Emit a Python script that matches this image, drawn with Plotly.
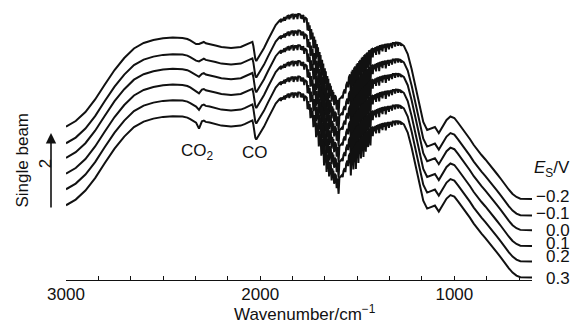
import plotly.graph_objects as go

# ---------------- data ----------------
potentials = ["\u22120.2", "\u22120.1", "0.0", "0.1", "0.2", "0.3"]   # E_S / V
# vertical stacking offsets of each spectrum (single-beam units, arrow = 2)
offsets = [0.0, -0.415, -0.78, -1.175, -1.565, -1.965]
# extra CO2 dip depth at 2315 cm-1 for each potential
co2_wn = 2315
co2_extra = [0.0, -0.02, -0.04, -0.06, -0.08, -0.15]

# reference spectrum (top trace, E_S = -0.2 V): (wavenumber / cm-1, single beam)
spectrum = [
    (3000, 3.833), (2950, 3.975), (2900, 4.200), (2850, 4.513), (2800, 4.888),
    (2750, 5.250), (2700, 5.550), (2650, 5.788), (2600, 5.925), (2550, 6.000),
    (2500, 6.043), (2450, 6.060), (2400, 6.050), (2375, 6.025), (2360, 5.988),
    (2350, 5.958), (2340, 5.925), (2330, 5.900), (2315, 5.900), (2300, 5.933),
    (2290, 5.950), (2280, 5.918), (2260, 5.900), (2230, 5.863), (2200, 5.825),
    (2150, 5.800), (2100, 5.825), (2080, 5.863), (2060, 5.913), (2050, 5.938),
    (2040, 5.955), (2035, 5.850), (2030, 5.675), (2025, 5.525), (2020, 5.475),
    (2010, 5.550), (2000, 5.650), (1980, 5.800), (1960, 6.000), (1940, 6.200),
    (1920, 6.375),
    # water-vapour region
    (1900, 6.488), (1897, 6.500), (1893, 6.440), (1889, 6.530), (1884.5, 6.473),
    (1880, 6.563), (1876, 6.570), (1872, 6.478), (1868, 6.585), (1864, 6.518),
    (1860, 6.600), (1854, 6.610), (1850, 6.515), (1846, 6.620), (1843, 6.550),
    (1840, 6.630), (1832, 6.638), (1828, 6.518), (1824, 6.645), (1820, 6.650),
    (1816, 6.575), (1812, 6.650), (1808, 6.525), (1804, 6.650), (1800, 6.650),
    (1794, 6.640), (1790, 6.534), (1786, 6.628), (1783, 6.523), (1780, 6.618),
    (1777, 6.604), (1773, 6.435), (1769, 6.568), (1760, 6.525), (1756, 6.238),
    (1752, 6.440), (1748.5, 6.225), (1745, 6.365), (1741, 6.008), (1737, 6.275),
    (1733.5, 6.021), (1730, 6.188), (1726, 5.788), (1722, 6.088), (1719, 5.804),
    (1716, 6.008), (1712, 5.533), (1708, 5.898), (1705, 5.576), (1702, 5.815),
    (1698, 5.303), (1694, 5.698), (1691.5, 5.345), (1689, 5.623), (1685, 5.073),
    (1681, 5.503), (1678, 5.108), (1675, 5.413), (1671, 4.828), (1667, 5.293),
    (1664.5, 4.905), (1662, 5.218), (1658, 4.669), (1654, 5.100), (1651.5, 4.750),
    (1649, 5.030), (1645, 4.553), (1641, 4.915), (1638.5, 4.604), (1636, 4.853),
    (1632, 4.455), (1628, 4.758), (1625.5, 4.518), (1623, 4.698), (1619, 4.370),
    (1615, 4.619), (1610, 4.575), (1606, 4.260), (1602, 4.505), (1596, 4.120),
    (1592, 4.523), (1585, 4.553), (1580, 4.575), (1579, 4.588), (1575, 4.538),
    (1571, 4.688), (1565, 4.763), (1561, 4.663), (1557, 4.868), (1551, 4.953),
    (1547, 4.813), (1543, 5.070), (1537, 5.138), (1533, 4.580), (1529, 5.209),
    (1526.5, 4.880), (1524, 5.253), (1520, 4.728), (1516, 5.313), (1513.5, 5.013),
    (1511, 5.344), (1507, 4.739), (1503, 5.394), (1500.5, 5.060), (1498, 5.425),
    (1494, 4.890), (1490, 5.475), (1487.5, 5.175), (1485, 5.506), (1481, 5.006),
    (1477, 5.553), (1474.5, 5.251), (1472, 5.580), (1468, 5.040), (1464, 5.623),
    (1462, 5.353), (1460, 5.643), (1456, 5.170), (1452, 5.675), (1450, 5.439),
    (1448, 5.693), (1444, 5.288), (1440, 5.725), (1436, 5.738), (1432, 5.330),
    (1428, 5.763), (1424, 5.775), (1420, 5.563), (1416, 5.798), (1411.5, 5.683),
    (1407, 5.820), (1403, 5.630), (1399, 5.840), (1395, 5.723), (1391, 5.855),
    (1387, 5.638), (1383, 5.870), (1378.5, 5.751), (1374, 5.883), (1370, 5.713),
    (1366, 5.893), (1361.5, 5.798), (1357, 5.903), (1353, 5.705), (1349, 5.908),
    (1345, 5.811), (1341, 5.915), (1337, 5.766), (1333, 5.918), (1329, 5.845),
    (1325, 5.923), (1321, 5.800), (1317, 5.928), (1309, 5.930), (1305, 5.833),
    (1301, 5.935), (1293, 5.933), (1289, 5.855), (1285, 5.928), (1278, 5.918),
    (1274, 5.855), (1270, 5.890), (1260, 5.855),
    # low-wavenumber region
    (1240, 5.650), (1220, 5.275), (1200, 4.850), (1180, 4.425), (1160, 3.950),
    (1140, 3.750), (1120, 3.788), (1100, 3.825), (1080, 3.675), (1060, 3.825),
    (1040, 4.000), (1020, 4.088), (1000, 4.050), (980, 3.925), (960, 3.800),
    (940, 3.663), (920, 3.525), (900, 3.375), (880, 3.243), (860, 3.125),
    (840, 3.013), (820, 2.900), (800, 2.775), (780, 2.650), (760, 2.525),
    (740, 2.388), (720, 2.263), (700, 2.150), (680, 2.075), (660, 2.033),
    (640, 2.025), (600, 2.025),
]

x_tick_labels = ["3000", "2000", "1000"]

# ---------------- figure ----------------
wn = [p[0] for p in spectrum]
ref = [p[1] for p in spectrum]

FONT = "Liberation Sans, Arial, Helvetica, sans-serif"
INK = "#111111"

fig = go.Figure()
for i, pot in enumerate(potentials):
    y = [r + offsets[i] + (co2_extra[i] if w == co2_wn else 0.0) for w, r in zip(wn, ref)]
    fig.add_trace(go.Scatter(x=wn, y=y, mode="lines", name=pot,
                             line=dict(color=INK, width=2.0),
                             showlegend=False, hoverinfo="skip"))

W, H = 573, 327
ML, MR, MT, MB = 66, 41, 0, 47
PW, PH = W - ML - MR, H - MT - MB


def px(xp):
    return (xp - ML) / PW


def py(yp):
    return (H - MB - yp) / PH


tickvals = [3000 - k * 1000 / 6 for k in range(15)]
ticktext = []
for t in tickvals:
    lab = ""
    for s in x_tick_labels:
        if abs(float(s) - t) < 1:
            lab = s
    ticktext.append(lab)


def note(xp, yp, text, xanchor="center", angle=0):
    return dict(x=px(xp), y=py(yp), xref="paper", yref="paper", text=text,
                showarrow=False, xanchor=xanchor, yanchor="middle", textangle=angle,
                font=dict(size=17, color=INK, family=FONT))


annotations = []
label_y = [196, 213, 230, 243, 256, 278]
for lab, yy in zip(potentials, label_y):
    annotations.append(note(572, yy, lab, xanchor="right"))
annotations.append(note(572, 168.5, "<i>E</i><sub>S</sub>/V", xanchor="right"))
annotations.append(note(197, 152, "CO<sub>2</sub>"))
annotations.append(note(255, 152, "CO"))
annotations.append(note(21.5, 160, "Single beam", angle=-90))
annotations.append(note(45.8, 163.5, "2", angle=-90))
annotations.append(dict(x=px(51), y=py(133), xref="paper", yref="paper",
                        text="", showarrow=True, ax=0, ay=76,
                        arrowhead=2, arrowsize=1.3, arrowwidth=1.6,
                        arrowcolor=INK, standoff=0, startstandoff=0))
annotations.append(note(305, 313, "Wavenumber/cm<sup>\u22121</sup>"))

fig.update_layout(
    width=W, height=H, autosize=False,
    margin=dict(l=ML, r=MR, t=MT, b=MB, pad=0),
    paper_bgcolor="white", plot_bgcolor="white",
    font=dict(family=FONT, size=17, color=INK),
    xaxis=dict(range=[3000, 600], showline=True, linecolor=INK, linewidth=1.2,
               ticks="inside", ticklen=4, tickwidth=1.2, tickcolor=INK,
               tickmode="array", tickvals=tickvals, ticktext=ticktext,
               tickfont=dict(size=17, color=INK, family=FONT),
               ticklabelstandoff=-2,
               showgrid=False, zeroline=False, fixedrange=True),
    yaxis=dict(range=[0, 7], visible=False, showgrid=False, zeroline=False,
               fixedrange=True),
    annotations=annotations,
)

fig.write_html("out.html", config={"displayModeBar": False})
